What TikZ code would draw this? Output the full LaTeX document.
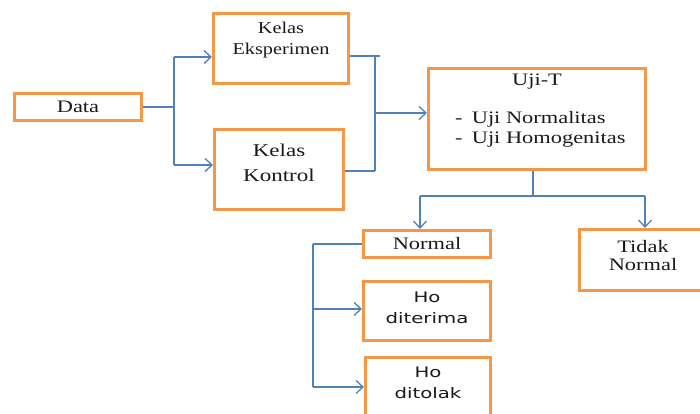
\documentclass[tikz,border=0pt]{standalone}
\usepackage{fontspec}
\setmainfont{Liberation Serif}
\newfontfamily\hofont{DejaVu Sans}
\usetikzlibrary{arrows.meta}
\definecolor{boxorange}{HTML}{F79646}
\definecolor{linkblue}{HTML}{4F81BD}
\definecolor{inkdark}{HTML}{1A1A1A}
\newcommand\wide[2][1.28]{\scalebox{#1}[1]{#2}}
\tikzset{
  box/.style={draw=boxorange, line width=3.2pt, fill=white, inner sep=0pt, rectangle},
  txt/.style={inner sep=0pt, align=center, text=inkdark, font=\fontsize{17.5}{21}\selectfont},
  hotxt/.style={inner sep=0pt, align=center, text=inkdark, font=\hofont\fontsize{14.5}{21}\selectfont},
  conn/.style={draw=linkblue, line width=1.5pt},
  arr/.style={conn, -{Straight Barb[length=7pt,width=13pt,line width=1.3pt]}}
}
\begin{document}
\begin{tikzpicture}[x=1pt,y=-1pt]
\useasboundingbox (0,0) rectangle (700,414);
\clip (0,0) rectangle (700,414);
% boxes
\node[box, minimum width=126.8pt, minimum height=26.8pt] (data) at (78,107) {};
\node[box, minimum width=134.8pt, minimum height=69.8pt] (eksp) at (281,48.5) {};
\node[box, minimum width=128.8pt, minimum height=79.8pt] (kontrol) at (279,169.5) {};
\node[box, minimum width=216.8pt, minimum height=100.8pt] (ujit) at (537,119) {};
\node[box, minimum width=126.8pt, minimum height=26.8pt] (normal) at (427,244) {};
\node[box, minimum width=126.8pt, minimum height=60.8pt] (tidak) at (643,260) {};
\node[box, minimum width=126.8pt, minimum height=58.8pt] (diterima) at (427,311) {};
\node[box, minimum width=124.8pt, minimum height=66.8pt] (ditolak) at (428,391) {};
% texts
\node[txt] (tdata) at (78,107) {\wide{Data}};
\node[txt, font=\fontsize{16.5}{21}\selectfont] (teksp) at (281,40) {\wide[1.23]{Kelas}\\\wide[1.23]{Eksperimen}};
\node[txt, font=\fontsize{18}{25}\selectfont] (tkontrol) at (279,163) {\wide{Kelas}\\\wide{Kontrol}};
\node[txt] (tujit) at (537,82) {\wide{Uji-T}};
\node[txt, align=left, anchor=west, font=\fontsize{17.5}{20}\selectfont] (tlist) at (455,129)
  {\wide{\makebox[13pt][l]{-}Uji Normalitas}\\\wide{\makebox[13pt][l]{-}Uji Homogenitas}};
\node[txt] (tnormal) at (427,244) {\wide{Normal}};
\node[txt, font=\fontsize{17.5}{18}\selectfont] (ttidak) at (643,256) {\wide{Tidak}\\\wide{Normal}};
\node[hotxt] (tditerima) at (427,307.5) {\wide[1.36]{Ho}\\\wide[1.36]{diterima}};
\node[hotxt] (tditolak) at (428,383) {\wide[1.36]{Ho}\\\wide[1.36]{ditolak}};
% junction coordinates
\coordinate (j1) at (174,107);
\coordinate (j1a) at (174,57);
\coordinate (j1b) at (174,165);
\coordinate (j2a) at (375,56);
\coordinate (j2b) at (375,171);
\coordinate (j2m) at (375,113);
\coordinate (j2t) at (380,56);
\coordinate (j3) at (533,196);
\coordinate (j3a) at (420,196);
\coordinate (j3b) at (645,196);
\coordinate (j4) at (313,244);
\coordinate (j4a) at (313,309);
\coordinate (j4b) at (313,387);
% connectors
\draw[conn] (data.east |- j1) -- (j1);
\draw[conn] (j1a) -- (j1b);
\draw[arr] (j1a) -- (eksp.west |- j1a);
\draw[arr] (j1b) -- (kontrol.west |- j1b);
\draw[conn] (eksp.east |- j2a) -- (j2t);
\draw[conn] (kontrol.east |- j2b) -- (j2b);
\draw[conn] (j2a) -- (j2b);
\draw[arr] (j2m) -- (ujit.west |- j2m);
\draw[conn] (ujit.south -| j3) -- (j3);
\draw[conn] (j3a) -- (j3b);
\draw[arr] (j3a) -- (j3a |- normal.north);
\draw[arr] (j3b) -- (j3b |- tidak.north);
\draw[conn] (normal.west |- j4) -- (j4);
\draw[conn] (j4) -- (j4b);
\draw[arr] (j4a) -- (diterima.west |- j4a);
\draw[arr] (j4b) -- (ditolak.west |- j4b);
\end{tikzpicture}
\end{document}
